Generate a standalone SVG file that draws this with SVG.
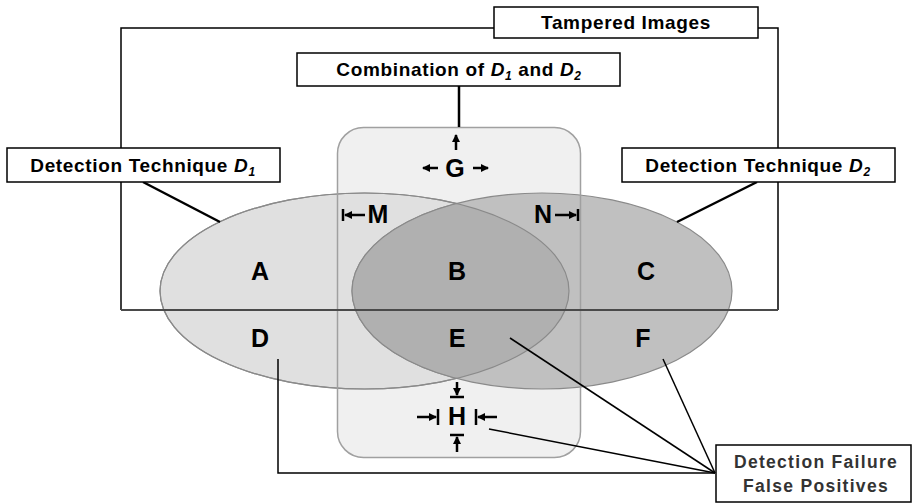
<svg xmlns="http://www.w3.org/2000/svg" width="914" height="504" viewBox="0 0 914 504">
<style>
text{font-family:"Liberation Sans",Arial,sans-serif;font-weight:bold;fill:#000}
.lbl{font-size:19px;letter-spacing:0.65px;text-anchor:middle}
.ft{font-size:17.5px;letter-spacing:1.3px;text-anchor:middle;fill:#333}
.big{font-size:25px;text-anchor:middle}
.box{fill:#fff;stroke:#000;stroke-width:1.5}
.ln{fill:none;stroke:#000;stroke-width:1.5}
.ln2{fill:none;stroke:#000;stroke-width:2.5}
.ar{fill:none;stroke:#000;stroke-width:2.5}
.bar{stroke:#000;stroke-width:2.5}
</style>
<defs>
<marker id="ah" markerWidth="8" markerHeight="8" refX="7" refY="4" orient="auto" markerUnits="userSpaceOnUse"><path d="M0,0 L8,4 L0,8 z" fill="#000"/></marker>
<clipPath id="c1"><ellipse cx="364.5" cy="291" rx="204.5" ry="98"/></clipPath>
</defs>
<g id="combination-area">
<rect x="337.5" y="127.5" width="243" height="330" rx="26" fill="#f0f0f0"/>
</g>
<g id="bracket-tampered">
<polyline class="ln" points="494,28 121,28 121,310"/>
<polyline class="ln" points="758,28 778,28 778,310"/>
</g>
<g id="ellipse-d1">
<ellipse cx="364.5" cy="291" rx="204.5" ry="98" fill="#e0e0e0" stroke="#8a8a8a" stroke-width="1.2"/>
</g>
<g id="ellipse-d2">
<ellipse cx="542" cy="291" rx="190" ry="98" fill="#c0c0c0" stroke="#8a8a8a" stroke-width="1.2"/>
</g>
<g id="overlap">
<ellipse cx="542" cy="291" rx="190" ry="98" fill="#b0b0b0" clip-path="url(#c1)"/>
<ellipse cx="542" cy="291" rx="190" ry="98" fill="none" stroke="#8a8a8a" stroke-width="1.2" clip-path="url(#c1)"/>
<ellipse cx="364.5" cy="291" rx="204.5" ry="98" fill="none" stroke="#8a8a8a" stroke-width="1.2"/>
</g>
<g id="combination-border">
<rect x="337.5" y="127.5" width="243" height="330" rx="26" fill="none" stroke="#a0a0a0" stroke-width="1.5"/>
</g>
<g id="connectors">
<line x1="121" y1="310" x2="778" y2="310" stroke="#4a4a4a" stroke-width="1.8"/>
<line class="ln2" x1="459" y1="86" x2="459" y2="127"/>
<line class="ln2" x1="143" y1="182" x2="220" y2="222"/>
<line class="ln2" x1="757" y1="182" x2="677" y2="222"/>
<polyline class="ln" points="278,359 278,473 715,473"/>
<line class="ln" x1="510" y1="338" x2="715" y2="473"/>
<line class="ln" x1="489" y1="429" x2="715" y2="473"/>
<line class="ln" x1="663" y1="359" x2="715" y2="473"/>
</g>
<g id="box-tampered">
<rect class="box" x="494" y="7" width="264" height="31"/>
<text class="lbl" x="626" y="29">Tampered Images</text>
</g>
<g id="box-combination">
<rect class="box" x="297" y="53" width="323" height="33"/>
<text class="lbl" x="459" y="76">Combination of <tspan font-style="italic">D</tspan><tspan font-style="italic" font-size="12" dy="4">1</tspan><tspan dy="-4"> and </tspan><tspan font-style="italic">D</tspan><tspan font-style="italic" font-size="12" dy="4">2</tspan></text>
</g>
<g id="box-d1">
<rect class="box" x="7" y="148" width="273" height="34"/>
<text class="lbl" x="143" y="172">Detection Technique <tspan font-style="italic">D</tspan><tspan font-style="italic" font-size="12" dy="4">1</tspan></text>
</g>
<g id="box-d2">
<rect class="box" x="622" y="148" width="273" height="34"/>
<text class="lbl" x="758" y="172">Detection Technique <tspan font-style="italic">D</tspan><tspan font-style="italic" font-size="12" dy="4">2</tspan></text>
</g>
<g id="box-failure">
<rect class="box" x="716" y="445" width="195" height="57"/>
<text class="ft" x="816" y="468">Detection Failure</text>
<text class="ft" x="816" y="492">False Positives</text>
</g>
<g id="regions">
<text class="big" x="260" y="280">A</text>
<text class="big" x="457" y="280">B</text>
<text class="big" x="646" y="280">C</text>
<text class="big" x="260" y="347">D</text>
<text class="big" x="457" y="347">E</text>
<text class="big" x="643" y="347">F</text>
</g>
<g id="label-g">
<text class="big" x="455" y="177">G</text>
<line class="ar" x1="456" y1="150" x2="456" y2="135" marker-end="url(#ah)"/>
<line class="ar" x1="438" y1="168" x2="423" y2="168" marker-end="url(#ah)"/>
<line class="ar" x1="473" y1="168" x2="488" y2="168" marker-end="url(#ah)"/>
</g>
<g id="label-m">
<text class="big" x="378" y="223">M</text>
<line class="ar" x1="365" y1="215" x2="345" y2="215" marker-end="url(#ah)"/>
<line class="bar" x1="343" y1="209" x2="343" y2="221"/>
</g>
<g id="label-n">
<text class="big" x="543" y="223">N</text>
<line class="ar" x1="555" y1="215" x2="576" y2="215" marker-end="url(#ah)"/>
<line class="bar" x1="578" y1="209" x2="578" y2="221"/>
</g>
<g id="label-h">
<text class="big" x="457" y="425">H</text>
<line class="ar" x1="457" y1="382" x2="457" y2="395" marker-end="url(#ah)"/>
<line class="bar" x1="450" y1="397" x2="464" y2="397"/>
<line class="ar" x1="457" y1="452" x2="457" y2="437" marker-end="url(#ah)"/>
<line class="bar" x1="450" y1="435" x2="464" y2="435"/>
<line class="ar" x1="417" y1="417" x2="436" y2="417" marker-end="url(#ah)"/>
<line class="bar" x1="438" y1="409" x2="438" y2="425"/>
<line class="ar" x1="497" y1="417" x2="478" y2="417" marker-end="url(#ah)"/>
<line class="bar" x1="476" y1="409" x2="476" y2="425"/>
</g>
</svg>
